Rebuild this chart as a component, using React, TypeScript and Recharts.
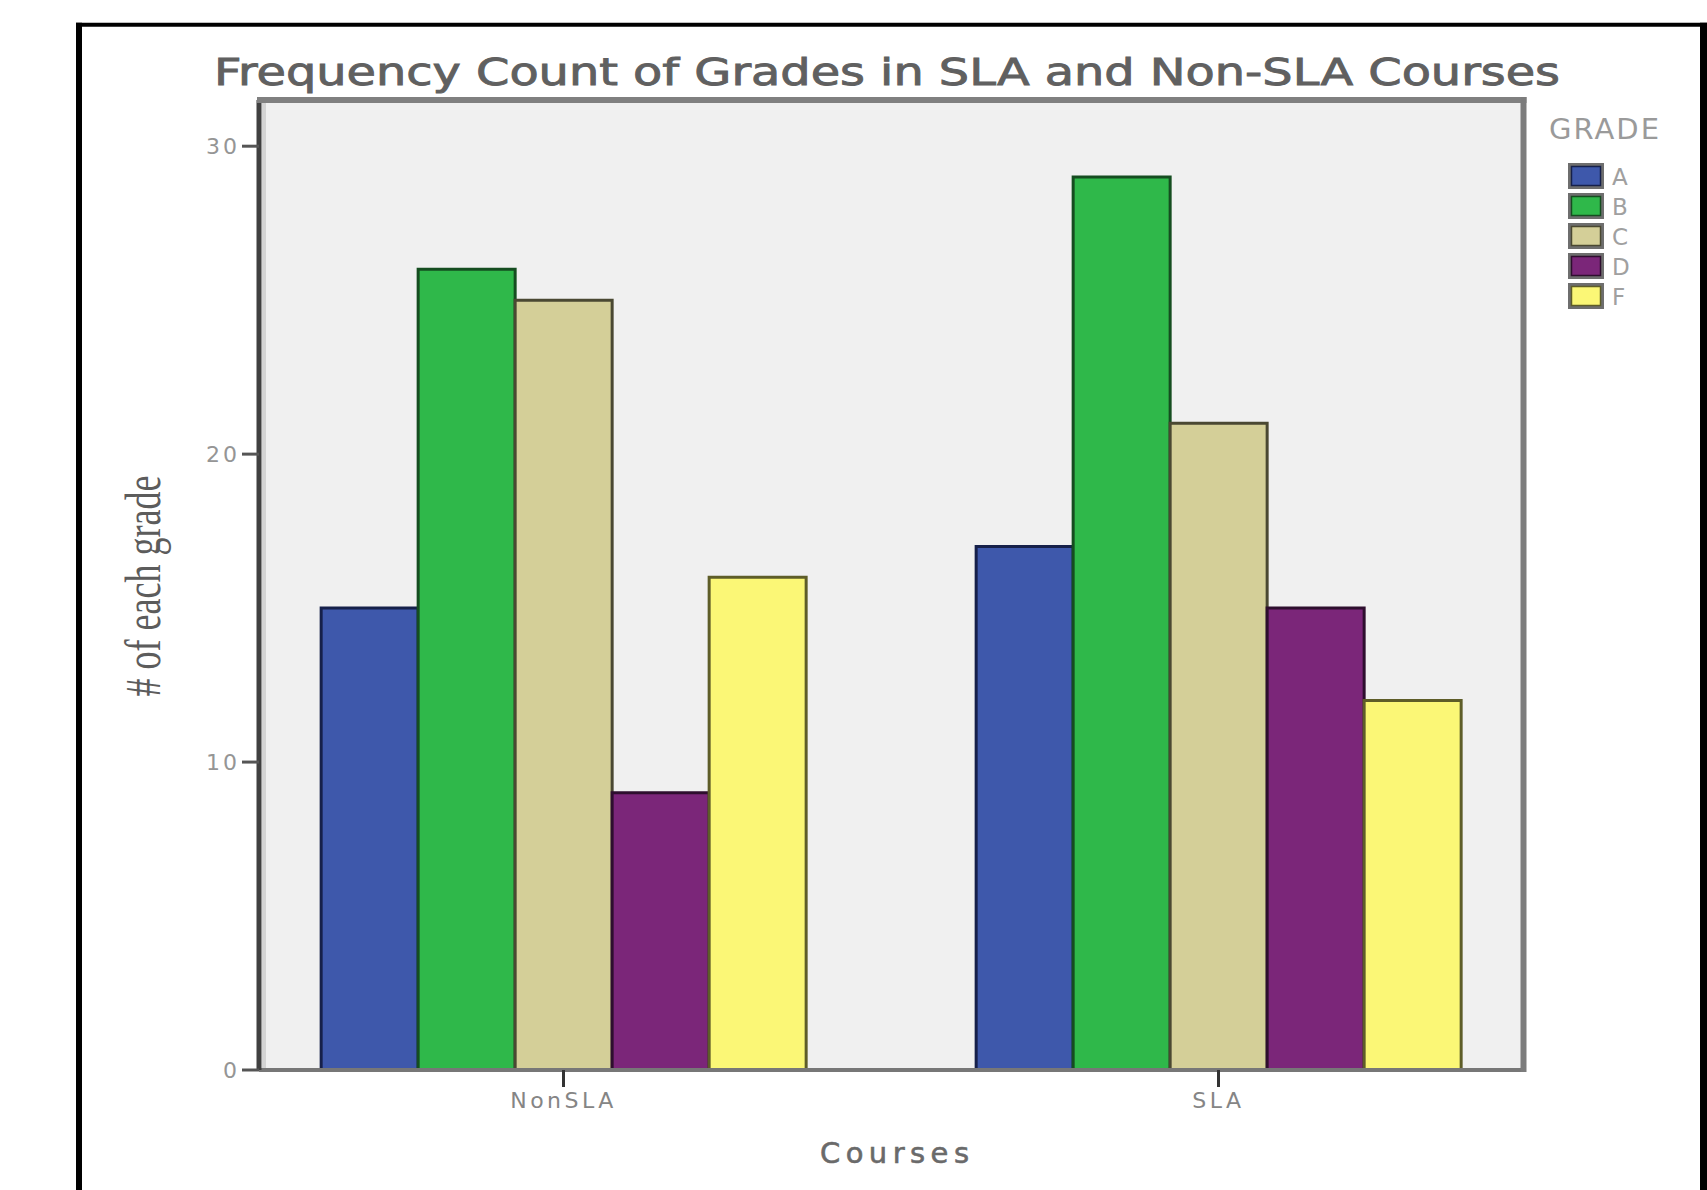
import React from 'react';
import { BarChart, Bar, XAxis, YAxis, CartesianGrid } from 'recharts';

const categories = ['NonSLA', 'SLA'];
const grades = ['A', 'B', 'C', 'D', 'F'];
const gradeA = [15, 17];
const gradeB = [26, 29];
const gradeC = [25, 21];
const gradeD = [9, 15];
const gradeF = [16, 12];
const yTicks = [0, 10, 20, 30];

const fills = ['#3e58ab', '#2fb84a', '#d4cf98', '#7b2679', '#fbf776'];
const strokes = ['#16204a', '#154d20', '#4a4832', '#2e0e2e', '#5e5d28'];

const seriesValues = [gradeA, gradeB, gradeC, gradeD, gradeF];
const data = categories.map((course, i) => {
  const row: Record<string, string | number> = { course };
  grades.forEach((g, j) => {
    row[g] = seriesValues[j][i];
  });
  return row;
});

const W = 1707;
const H = 1190;
const PLOT_LEFT = 259;
const PLOT_RIGHT = 1523;
const PLOT_TOP = 100;
const PLOT_BOTTOM = 1070;
const FONT = 'DejaVu Sans, Verdana, sans-serif';

const LegendBlock = () => (
  <g transform="translate(1540,110)">
    <text x={9} y={29} fontFamily={FONT} fontSize={29} fill="#9a9a9a" textLength={110} lengthAdjust="spacing">
      GRADE
    </text>
    {grades.map((g, i) => {
      const top = 53 + i * 30;
      return (
        <g key={g}>
          <rect x={29.5} y={top + 1.5} width={33} height={23} fill={fills[i]} stroke="#6e6e6e" strokeWidth={3} />
          <rect x={31.5} y={top + 3.5} width={29} height={19} fill="none" stroke={strokes[i]} strokeWidth={1.5} />
          <text x={72} y={top + 21.5} fontFamily={FONT} fontSize={23} fill="#a0a0a0">
            {g}
          </text>
        </g>
      );
    })}
  </g>
);

export default function App() {
  return (
    <div style={{ position: 'absolute', left: 0, top: 0, width: W, height: H, background: '#ffffff' }}>
      <BarChart
        width={W}
        height={H}
        data={data}
        margin={{ top: PLOT_TOP, right: W - PLOT_RIGHT, bottom: 60, left: PLOT_LEFT - 60 }}
        barCategoryGap="13%"
        barGap={0}
      >
        <CartesianGrid horizontal={false} vertical={false} fill="#f0f0f0" stroke="none" />
        <XAxis
          dataKey="course"
          height={60}
          padding={{ left: -23, right: -23 }}
          axisLine={{ stroke: '#777777', strokeWidth: 4 }}
          tickLine={{ stroke: '#333333', strokeWidth: 3 }}
          tickSize={17}
          tickMargin={5}
          tick={{ fill: '#858585', fontSize: 22, fontFamily: FONT, style: { letterSpacing: '3.5px' } }}
        />
        <YAxis
          domain={[0, 31.5]}
          ticks={yTicks}
          width={60}
          axisLine={{ stroke: '#404040', strokeWidth: 5 }}
          tickLine={{ stroke: '#555555', strokeWidth: 3 }}
          tickSize={17}
          tickMargin={2}
          tick={{ fill: '#959595', fontSize: 22, fontFamily: FONT, style: { letterSpacing: '3px' } }}
        />
        {grades.map((g, i) => (
          <Bar key={g} dataKey={g} name={g} fill={fills[i]} stroke={strokes[i]} strokeWidth={3} isAnimationActive={false} />
        ))}
      </BarChart>
      <svg
        width={W}
        height={H}
        style={{ position: 'absolute', left: 0, top: 0, pointerEvents: 'none' }}
      >
        {/* outer frame */}
        <line x1={79} y1={22.7} x2={79} y2={H} stroke="#000" strokeWidth={6} />
        <line x1={76} y1={24.7} x2={W} y2={24.7} stroke="#000" strokeWidth={4} />
        <line x1={1703.5} y1={22.7} x2={1703.5} y2={H} stroke="#000" strokeWidth={7} />
        {/* plot border */}
        <line x1={257} y1={PLOT_TOP} x2={PLOT_RIGHT + 3.5} y2={PLOT_TOP} stroke="#808080" strokeWidth={6} />
        <line x1={PLOT_RIGHT + 0.5} y1={PLOT_TOP - 3} x2={PLOT_RIGHT + 0.5} y2={PLOT_BOTTOM + 2} stroke="#7c7c7c" strokeWidth={6} />
        <line x1={264} y1={PLOT_TOP + 3} x2={264} y2={PLOT_BOTTOM - 2} stroke="#d4d4d4" strokeWidth={4} />
        {/* title */}
        <text
          x={887}
          y={85}
          textAnchor="middle"
          fontFamily={FONT}
          fontSize={38}
          fill="#606060"
          stroke="#606060"
          strokeWidth={0.9}
          textLength={1346}
          lengthAdjust="spacingAndGlyphs"
        >
          Frequency Count of Grades in SLA and Non-SLA Courses
        </text>
        {/* y axis label */}
        <text
          transform="translate(160,586) rotate(-90)"
          textAnchor="middle"
          fontFamily="Liberation Serif, Times New Roman, serif"
          fontSize={50}
          fill="#5c5c5c"
          textLength={221}
          lengthAdjust="spacingAndGlyphs"
        >
          # of each grade
        </text>
        {/* x axis label */}
        <text
          x={894.5}
          y={1163}
          textAnchor="middle"
          fontFamily={FONT}
          fontSize={29}
          fill="#6a6a6a"
          stroke="#6a6a6a"
          strokeWidth={0.6}
          textLength={149}
          lengthAdjust="spacing"
        >
          Courses
        </text>
        <LegendBlock />
      </svg>
    </div>
  );
}
